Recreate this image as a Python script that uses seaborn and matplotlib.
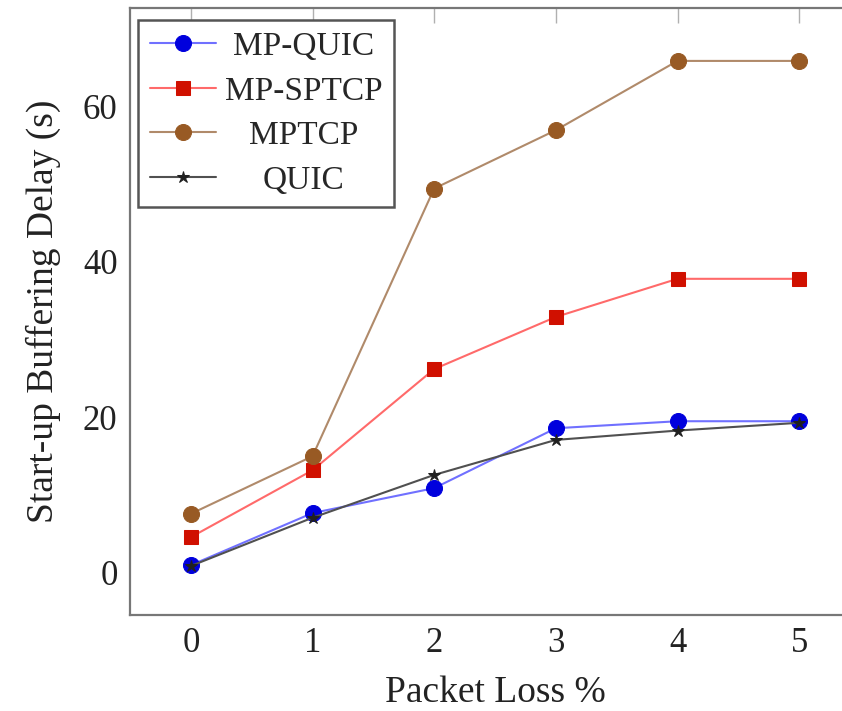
import matplotlib
matplotlib.use("Agg")
import matplotlib.pyplot as plt
import seaborn as sns
import pandas as pd

loss = [0, 1, 2, 3, 4, 5]
mp_quic = [1.0, 7.7, 10.9, 18.6, 19.5, 19.5]
mp_sptcp = [4.6, 13.2, 26.2, 32.9, 37.8, 37.8]
mptcp = [7.6, 15.0, 49.4, 56.9, 65.8, 65.8]
quic = [0.9, 7.1, 12.6, 17.1, 18.3, 19.3]
yticks = [0, 20, 40, 60]

series_names = ["MP-QUIC", "MP-SPTCP", "MPTCP", "QUIC"]
series_vals = [mp_quic, mp_sptcp, mptcp, quic]

rows = []
for name, vals in zip(series_names, series_vals):
    for x, y in zip(loss, vals):
        rows.append({"loss": x, "delay": y, "proto": name})
df = pd.DataFrame(rows)

sns.set_theme(style="white")
plt.rcParams["font.family"] = ["Liberation Serif", "DejaVu Serif"]

line_colors = {"MP-QUIC": "#7070ff", "MP-SPTCP": "#ff6a6a", "MPTCP": "#b08a6a", "QUIC": "#505050"}
mark_colors = {"MP-QUIC": "#0000dd", "MP-SPTCP": "#d01000", "MPTCP": "#985a24", "QUIC": "#202020"}
markers = {"MP-QUIC": "o", "MP-SPTCP": "s", "MPTCP": "o", "QUIC": "*"}
msizes = {"MP-QUIC": 11.5, "MP-SPTCP": 10.5, "MPTCP": 11.5, "QUIC": 9}

fig = plt.figure(figsize=(8.42, 7.11), dpi=100)
ax = fig.add_axes([130/842, 1-615/711, 730/842, 607/711])

for name in series_names:
    sub = df[df["proto"] == name]
    sns.lineplot(data=sub, x="loss", y="delay", ax=ax, color=line_colors[name],
                 marker=markers[name], markersize=msizes[name],
                 markerfacecolor=mark_colors[name], markeredgecolor=mark_colors[name],
                 linewidth=1.5, label=name, zorder=3)

ax.set_xlim(-0.5, 5.5)
ax.set_ylim(-5.4, 72.6)
ax.set_xticks(loss)
ax.set_yticks(yticks)
ax.set_xticklabels([str(v) for v in loss])
ax.set_yticklabels([str(v) for v in yticks])
ax.tick_params(direction="in", length=11, width=1.0, color="#b0b0b0",
               top=True, right=True, labelsize=25, pad=9, labelcolor="#222222")
for s in ax.spines.values():
    s.set_color("#777777")
    s.set_linewidth(1.6)

ax.set_xlabel("Packet Loss %", fontsize=27, color="#222222", labelpad=11)
ax.set_ylabel("Start-up Buffering Delay (s)", fontsize=27, color="#222222", labelpad=16)

leg = ax.legend(loc="upper left", bbox_to_anchor=(8/730, 595/607), borderaxespad=0,
                fontsize=24, frameon=True, fancybox=False, framealpha=1, edgecolor="#555555",
                handlelength=2.0, handletextpad=0.25, borderpad=0.35, labelspacing=0.42)
leg.get_frame().set_linewidth(1.8)
fig.canvas.draw()
renderer = fig.canvas.get_renderer()
widths = [t.get_window_extent(renderer).width for t in leg.get_texts()]
wmax = max(widths)
for t, w in zip(leg.get_texts(), widths):
    t.set_position(((wmax - w) / 2, 0))

fig.savefig("out.png", dpi=100)
